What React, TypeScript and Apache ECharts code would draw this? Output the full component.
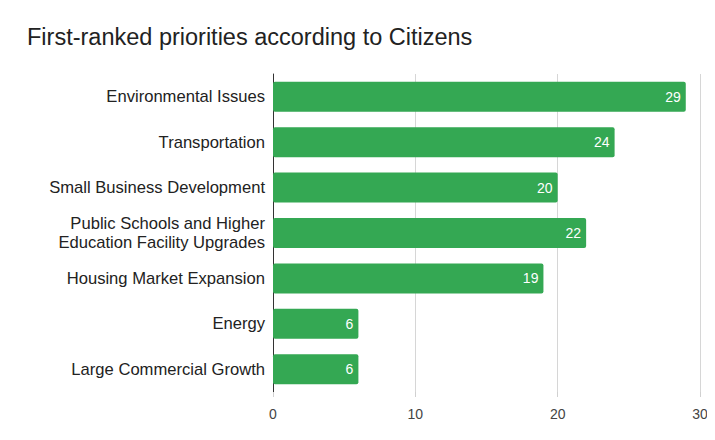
import React, { useEffect, useRef } from "react";
import * as echarts from "echarts";

const categories = [
  "Environmental Issues",
  "Transportation",
  "Small Business Development",
  "Public Schools and Higher\nEducation Facility Upgrades",
  "Housing Market Expansion",
  "Energy",
  "Large Commercial Growth",
];
const values = [29, 24, 20, 22, 19, 6, 6];
const xTicks = [0, 10, 20, 30];

export default function App() {
  const ref = useRef<HTMLDivElement>(null);
  useEffect(() => {
    const chart = echarts.init(ref.current!, null, { renderer: "svg" });
    const font = "Arial, 'Liberation Sans', sans-serif";
    chart.setOption({
      animation: false,
      title: {
        text: "First-ranked priorities according to Citizens",
        left: 22,
        top: 20,
        textStyle: { fontFamily: font, fontSize: 23.5, fontWeight: "normal", color: "#222" },
      },
      graphic: [
        { type: "line", shape: { x1: 0, y1: 2, x2: 715, y2: 2 }, style: { stroke: "#c4c4c4", lineWidth: 2 } },
        { type: "line", shape: { x1: 2, y1: 0, x2: 2, y2: 440 }, style: { stroke: "#c4c4c4", lineWidth: 2 } },
      ],
      grid: { left: 273, right: 15, top: 74, height: 318, containLabel: false },
      xAxis: {
        type: "value",
        min: 0,
        max: xTicks[xTicks.length - 1],
        interval: 10,
        axisLine: { show: false },
        axisTick: { show: true, length: 5, lineStyle: { color: "#d0d0d0" } },
        splitLine: { show: true, lineStyle: { color: "#d6d6d6", width: 1 } },
        axisLabel: { fontFamily: font, fontSize: 14, color: "#444", margin: 15 },
      },
      yAxis: {
        type: "category",
        data: categories,
        inverse: true,
        axisLine: { show: true, lineStyle: { color: "#333", width: 1 } },
        axisTick: { show: false },
        axisLabel: { fontFamily: font, fontSize: 16.6, color: "#222", margin: 8, lineHeight: 18.5 },
      },
      series: [
        {
          type: "bar",
          data: values,
          barWidth: 30,
          itemStyle: { color: "#34a853", borderRadius: 2 },
          label: {
            show: true,
            position: "insideRight",
            distance: 5,
            color: "#fff",
            fontFamily: font,
            fontSize: 14,
          },
        },
      ],
    });
    return () => chart.dispose();
  }, []);
  return <div ref={ref} style={{ width: 715, height: 440, margin: -8 }} />;
}
